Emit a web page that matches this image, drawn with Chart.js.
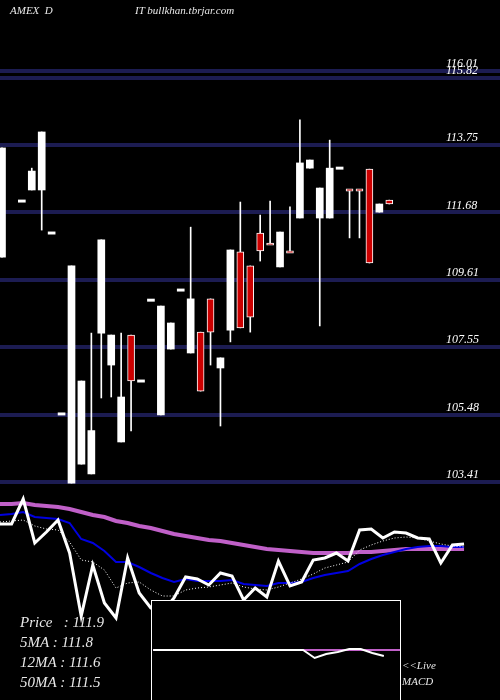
<!DOCTYPE html>
<html><head><meta charset="utf-8">
<script src="https://cdn.jsdelivr.net/npm/chart.js@4/dist/chart.umd.min.js"></script>
<style>
body{margin:0;background:#000;width:500px;height:700px;overflow:hidden;position:relative;font-family:"DejaVu Serif",serif}
.w{position:absolute}
.t{position:absolute;color:#e8e8e8;font-style:italic;font-family:"Liberation Serif",serif;white-space:pre}
</style></head><body>
<div class="w" style="left:0;top:0;width:500px;height:490px"><canvas id="top" width="500" height="490"></canvas></div>
<div class="w" style="left:0;top:490px;width:500px;height:210px"><canvas id="bot" width="500" height="210"></canvas></div>
<div style="position:absolute;left:151px;top:600px;width:248px;height:99px;border:1px solid #fff;border-bottom:none;background:#000"></div>
<div class="w" style="left:152px;top:600px;width:248px;height:100px"><canvas id="macd" width="248" height="100"></canvas></div>
<div class="t" style="left:10px;top:4px;font-size:11px">AMEX  D</div>
<div class="t" style="left:135px;top:4px;font-size:11px">IT bullkhan.tbrjar.com</div>
<div class="t" style="left:20px;top:614px;font-size:15px">Price   : 111.9</div>
<div class="t" style="left:20px;top:634px;font-size:15px">5MA : 111.8</div>
<div class="t" style="left:20px;top:654px;font-size:15px">12MA : 111.6</div>
<div class="t" style="left:20px;top:674px;font-size:15px">50MA : 111.5</div>
<div class="t" style="left:402px;top:659px;font-size:11px">&lt;&lt;Live</div>
<div class="t" style="left:402px;top:675px;font-size:11px">MACD</div>
<script>
// candle data (index, open, high, low, close); index 1 missing
const candleIdx = [0,2,3,4,5,6,7,8,9,10,11,12,13,14,15,16,17,18,19,20,21,22,23,24,25,26,27,28,29,30,31,32,33,34,35,36,37,38,39];
const opens  = [110.31,112.03,112.37,112.37,111.05,105.50,103.38,103.96,103.66,107.98,107.00,104.64,107.92,106.51,108.99,105.47,107.49,109.30,107.37,108.01,109.03,106.91,108.07,110.47,110.04,111.05,110.71,110.01,110.47,111.51,113.04,111.51,111.51,113.04,112.37,112.37,113.01,111.69,112.06];
const closes = [113.66,112.03,112.95,114.15,111.05,105.50,110.04,106.51,104.99,110.84,107.92,106.02,106.51,106.51,108.99,108.81,108.29,109.30,109.03,106.20,108.01,107.22,110.53,108.14,108.47,110.50,110.71,111.08,110.47,113.20,113.29,112.43,113.04,113.04,112.37,112.37,110.13,111.94,111.94];
const highs  = [113.66,112.03,113.04,114.15,111.05,105.50,110.04,106.51,107.98,110.84,107.92,107.98,107.92,106.51,108.99,108.81,108.29,109.30,111.23,108.01,109.03,107.22,110.53,112.00,110.04,111.60,112.03,111.08,111.85,114.52,113.29,112.43,113.90,113.04,112.37,112.37,113.01,111.94,112.06];
const lows   = [110.31,112.03,112.37,111.14,111.05,105.50,103.38,103.96,103.66,105.99,106.02,104.64,104.98,106.51,108.99,105.47,107.49,109.30,107.37,106.20,107.00,105.13,107.71,108.14,108.01,110.19,110.71,110.01,110.47,111.51,113.04,108.20,111.51,113.04,110.90,110.90,110.13,111.69,111.94];
const downFlags = [0,0,0,0,0,0,0,0,0,0,0,0,1,0,0,0,0,0,0,1,1,0,0,1,1,1,1,0,1,0,0,0,0,0,1,1,1,0,1];
const levelTicks = [116.01,115.82,113.75,111.68,109.61,107.55,105.48,103.41];

// lower panel series
const priceLine = [117.6,117.6,120.1,115.7,116.8,118.0,114.7,108.4,113.5,109.7,108.2,114.2,110.7,109.2,108.8,110.2,112.3,112.1,111.5,112.7,112.4,110.0,111.2,110.3,113.9,111.4,111.8,114.0,114.2,114.7,113.9,117.0,117.1,116.2,116.8,116.7,116.2,116.1,113.7,115.5,115.6];
const ma5  = [117.8,117.9,118.0,117.4,117.1,117.0,115.8,114.0,113.8,113.0,111.2,111.7,111.8,111.0,110.4,110.4,111.0,111.2,111.3,111.5,111.7,111.3,111.1,111.0,111.3,111.7,112.1,112.6,113.2,113.5,113.8,115.0,115.5,115.9,116.2,116.3,116.2,115.9,115.6,115.4,115.3];
const ma12 = [118.5,118.6,118.8,118.3,118.2,118.1,117.7,116.1,115.7,114.9,113.8,113.8,113.3,112.7,112.2,111.8,112.1,111.9,111.9,111.9,112.0,111.6,111.5,111.4,111.7,111.7,111.8,112.2,112.5,112.7,112.9,113.6,114.1,114.5,114.8,115.1,115.3,115.4,115.4,115.3,115.3];
const ma50 = [119.6,119.6,119.7,119.5,119.4,119.3,119.1,118.8,118.5,118.3,117.9,117.7,117.4,117.2,116.9,116.6,116.4,116.2,116.0,115.9,115.7,115.5,115.3,115.1,115.0,114.9,114.8,114.7,114.7,114.7,114.7,114.8,114.8,114.9,115.0,115.1,115.1,115.1,115.1,115.1,115.1];
const macdLine   = [0,0,0,0,0,0,0,0,0,0,0,0,0,0,-0.8,-0.4,-0.2,0.1,0.1,-0.3,-0.6];
const signalLine = [0,0,0,0,0,0,0,0,0,0,0,0,0,0,0,0,0,0,0,0,0,0,0];

Chart.defaults.animation = false;
Chart.defaults.devicePixelRatio = 1;
Chart.defaults.plugins.legend.display = false;
Chart.defaults.plugins.tooltip.enabled = false;

const isDash = i => Math.abs(opens[i]-closes[i]) < 0.05;
const bodyData = candleIdx.map((x,i)=> isDash(i) ? {x, y:[opens[i]-0.035, opens[i]+0.035]} : {x, y:[opens[i], closes[i]]});
const wickData = candleIdx.map((x,i)=>({x, y:[lows[i], highs[i]]}));

const levelLabels = {
  id:'levelLabels',
  afterDraw(c){
    const ctx=c.ctx, y=c.scales.y;
    ctx.save();
    ctx.fillStyle='#fff';
    ctx.font='italic 12px "Liberation Serif", serif';
    ctx.textAlign='left'; ctx.textBaseline='bottom';
    levelTicks.forEach(v=>ctx.fillText(v.toFixed(2), 446, y.getPixelForValue(v)-1));
    ctx.restore();
  }
};

new Chart(document.getElementById('top'), {
  type:'bar',
  data:{datasets:[
    {data:wickData, backgroundColor:'#fff', barThickness:1, grouped:false, order:2},
    {data:bodyData, grouped:false, order:1, barThickness:7,
     backgroundColor: candleIdx.map((x,i)=>downFlags[i]?'#cc0000':'#fff'),
     borderColor:'#fff', borderWidth: candleIdx.map((x,i)=>downFlags[i]?1:0), borderSkipped:false}
  ]},
  options:{responsive:false, layout:{padding:0},
    scales:{
      x:{type:'linear', offset:false, min:-0.2, max:50.15, display:false, grid:{offset:false}},
      y:{min:103.167, max:118.198, border:{display:false},
         afterBuildTicks:a=>{a.ticks=levelTicks.map(v=>({value:v}));},
         ticks:{display:false}, grid:{color:'#1c1c52', lineWidth:4, drawTicks:false}}
    }},
  plugins:[levelLabels]
});

const pts = arr => arr.map((v,i)=>({x:i, y:v}));
new Chart(document.getElementById('bot'), {
  type:'line',
  data:{datasets:[
    {data:pts(priceLine), borderColor:'#fff', borderWidth:3, pointRadius:0},
    {data:pts(ma5), borderColor:'#fff', borderWidth:1, borderDash:[1,2], pointRadius:0},
    {data:pts(ma12), borderColor:'#0000e0', borderWidth:2, pointRadius:0},
    {data:pts(ma50), borderColor:'#c060c8', borderWidth:4, pointRadius:0}
  ]},
  options:{responsive:false, layout:{padding:0},
    scales:{x:{type:'linear', min:0, max:43.1, display:false}, y:{min:100, max:121, display:false}}}
});

new Chart(document.getElementById('macd'), {
  type:'line',
  data:{datasets:[
    {data:pts(macdLine), borderColor:'#fff', borderWidth:2, pointRadius:0},
    {data:pts(signalLine), borderColor:'#c060c8', borderWidth:2, pointRadius:0}
  ]},
  options:{responsive:false, layout:{padding:0},
    scales:{x:{type:'linear', min:-0.1, max:21.4, display:false}, y:{min:-5, max:5, display:false}}}
});
</script>
</body></html>
